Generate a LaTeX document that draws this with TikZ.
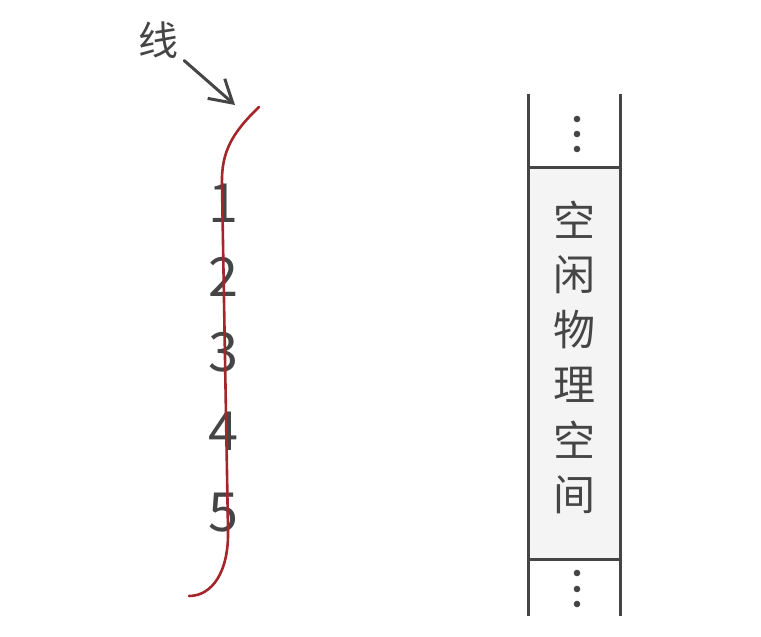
\documentclass[tikz,border=0pt]{standalone}
\usepackage{fontspec}
\setmainfont{Noto Sans CJK SC}
\usetikzlibrary{arrows.meta}
\definecolor{inkgray}{HTML}{454545}
\definecolor{linered}{HTML}{A3262A}
\definecolor{cellgray}{HTML}{F4F4F4}
\tikzset{
  numlabel/.style={text=inkgray, inner sep=0pt, font=\fontsize{54}{54}\selectfont},
  hanzi/.style={text=inkgray, inner sep=0pt, font=\fontsize{42}{42}\selectfont},
  cell/.style={draw=inkgray, fill=cellgray, line width=3pt, inner sep=0pt, minimum width=92pt, minimum height=392pt},
  wall/.style={draw=inkgray, line width=3pt, line cap=butt},
}
\begin{document}
\begin{tikzpicture}[x=1pt, y=-1pt, line cap=round, line join=round]
	\useasboundingbox (0,0) rectangle (761,637);
	% Numbers under the line
	\foreach \a/\y in {1/203, 2/277, 3/352, 4/431, 5/513}
		\node [numlabel] (num-\a) at (223, \y) {\a};
	% The line
	\coordinate (line-start) at (259,107);
	\coordinate (line-end) at (189,596);
	\draw [draw=linered, line width=2.6pt] (line-start) .. controls (232,133) and (221,152) .. (222,185) -- (228,530) .. controls (229,572) and (212,596) .. (line-end);
	% Label with arrow
	\node [hanzi, font=\fontsize{40}{40}\selectfont] (label) at (158, 40) {线};
	\coordinate (label-tip) at (235, 105);
	\draw [draw=inkgray, line width=3pt, -{Straight Barb[length=22pt, width=26pt, line width=3pt]}] ([shift={(6,2)}]label.south east) -- (label-tip);
	% Free physical space
	\node [cell] (free) at (574, 363) {};
	\foreach \c [count=\x] in {空, 闲, 物, 理, 空, 间}
		\node [hanzi] (char-\x) at (574, 165 + 55 * \x) {\c};
	\coordinate (top-left) at (528, 94);
	\coordinate (top-right) at (620, 94);
	\coordinate (bottom-left) at (528, 616);
	\coordinate (bottom-right) at (620, 616);
	\draw [wall] (top-left) -- (bottom-left);
	\draw [wall] (top-right) -- (bottom-right);
	% Dots
	\foreach \y in {119, 134, 149, 573, 589, 604}
		\fill [inkgray] (577, \y) circle (3.3);
\end{tikzpicture}
\end{document}
